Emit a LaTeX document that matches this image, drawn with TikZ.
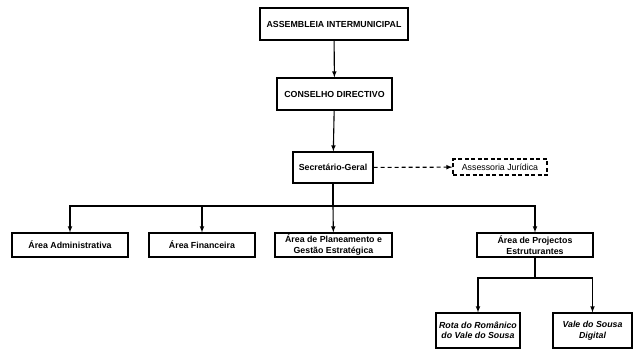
\documentclass[tikz,border=0pt]{standalone}
\usepackage{fontspec}
\setmainfont{Liberation Sans}
\usetikzlibrary{arrows,positioning}

\begin{document}
\begin{tikzpicture}[
	%	style def
    x=1pt, y=-1pt,
    box/.style={draw, line width=1.2pt, align=center, inner sep=1pt, font=\bfseries\fontsize{8.8}{10.5}\selectfont},
    dashbox/.style={box, dash pattern=on 4pt off 2.5pt, font=\fontsize{8.8}{10.5}\selectfont},
    important line/.style={line width=1.1pt},
    every node/.style={color=black}
    ]
	\useasboundingbox (0,0) rectangle (635,349);

	% top of the chart
	\node[box, minimum width=148pt, minimum height=32pt] (assembleia) at (334,24) {ASSEMBLEIA INTERMUNICIPAL};
	\node[box, minimum width=115pt, minimum height=32pt] (conselho) at (334.5,94) {CONSELHO DIRECTIVO};
	\node[box, minimum width=80pt, minimum height=31pt] (secretario) at (333,167.5) {Secretário-Geral};
	\node[dashbox, minimum width=94pt, minimum height=16pt] (assessoria) at (500,167) {Assessoria Jurídica};

	% areas
	\node[box, minimum width=116pt, minimum height=24pt] (administrativa) at (70,245) {Área Administrativa};
	\node[box, minimum width=106pt, minimum height=24pt] (financeira) at (202,245) {Área Financeira};
	\node[box, minimum width=117pt, minimum height=24pt] (planeamento) at (333.5,245) {Área de Planeamento e\\Gestão Estratégica};
	\node[box, minimum width=116pt, minimum height=24pt] (projectos) at (535,245) {Área de Projectos\\Estruturantes};

	% projects
	\node[box, minimum width=84pt, minimum height=35pt, font=\bfseries\itshape\fontsize{8.8}{10.5}\selectfont] (rota) at (478,330.5) {Rota do Românico\\do Vale do Sousa};
	\node[box, minimum width=79pt, minimum height=35pt, font=\bfseries\itshape\fontsize{8.8}{10.5}\selectfont] (digital) at (592.5,330.5) {Vale do Sousa\\Digital};

	% connections
	\draw[important line, -latex] (assembleia) -- (conselho);
	\draw[important line, -latex] (conselho) -- (secretario);
	\draw[important line, dash pattern=on 4pt off 3pt, -latex] (secretario) -- (assessoria);
	\draw[important line] (secretario.south) -- (333,206) coordinate (split);
	\draw[important line, -latex] (split) -| (administrativa);
	\draw[important line, -latex] (split) -| (financeira);
	\draw[important line, -latex] (split) -- (planeamento);
	\draw[important line, -latex] (split) -| (projectos);
	\draw[important line] (projectos.south) -- (535,278) coordinate (split2);
	\draw[important line, -latex] (split2) -| (rota);
	\draw[important line, -latex] (split2) -| (digital);
\end{tikzpicture}
\end{document}
